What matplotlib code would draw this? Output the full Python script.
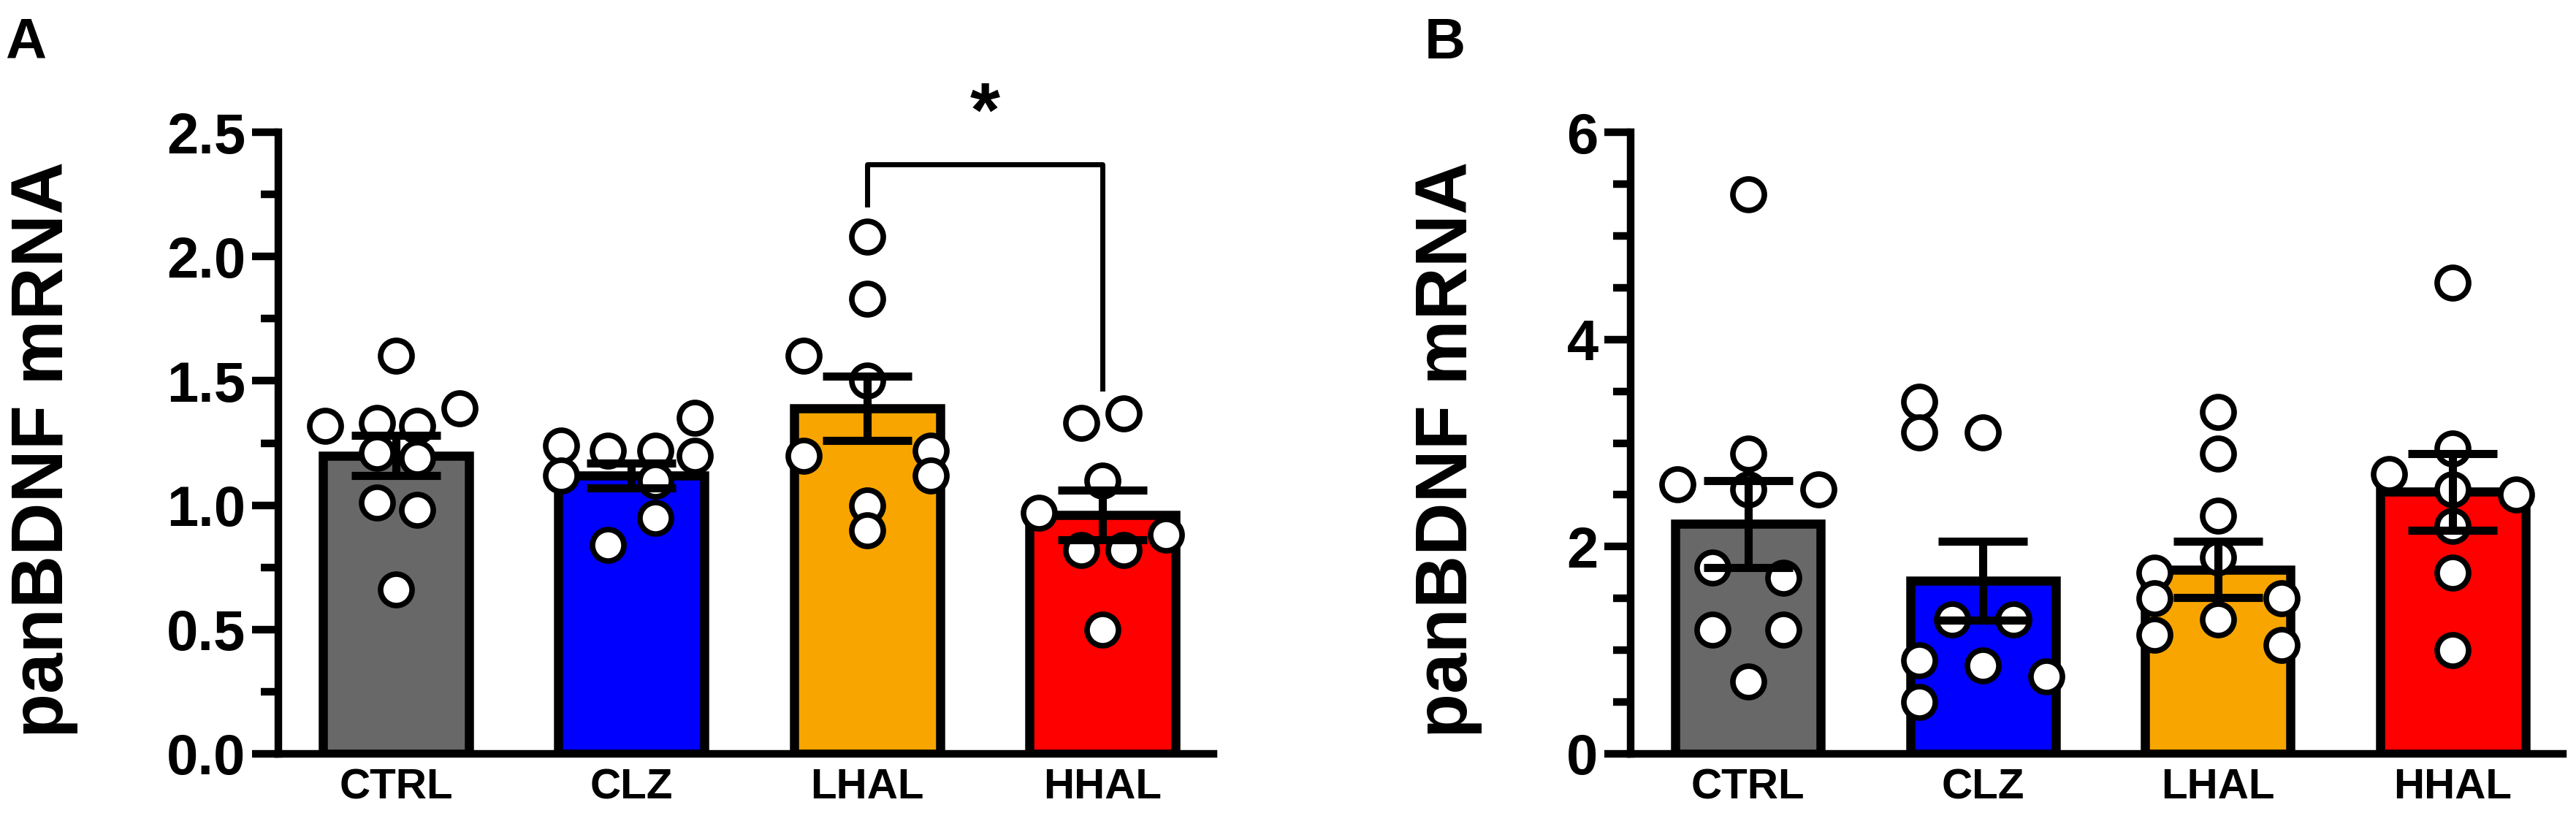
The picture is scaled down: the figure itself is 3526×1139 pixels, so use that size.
import matplotlib
matplotlib.use("Agg")
import matplotlib.pyplot as plt
from matplotlib.ticker import MultipleLocator

plt.rcParams["font.family"] = "Liberation Sans"
plt.rcParams["font.weight"] = "bold"

groups = ["CTRL", "CLZ", "LHAL", "HHAL"]
colors = ["#686868", "#0000FF", "#F8A500", "#FF0000"]

# panel A
a_means = [1.20, 1.12, 1.39, 0.96]
a_sems = [0.08, 0.05, 0.13, 0.10]
a_points = [
    [1.60, 1.39, 1.32, 1.33, 1.32, 1.21, 1.19, 1.01, 0.98, 0.66],
    [1.35, 1.24, 1.22, 1.22, 1.20, 1.12, 1.10, 0.95, 0.84],
    [2.08, 1.83, 1.60, 1.50, 1.22, 1.20, 1.12, 1.00, 0.90],
    [1.37, 1.33, 1.10, 0.97, 0.88, 0.82, 0.82, 0.50],
]
a_offsets = [
    [0, 0.27, -0.3, -0.08, 0.09, -0.08, 0.09, -0.08, 0.09, 0],
    [0.27, -0.3, -0.1, 0.1, 0.27, -0.3, 0.1, 0.1, -0.1],
    [0, 0, -0.27, 0, 0.27, -0.27, 0.27, 0, 0],
    [0.09, -0.09, 0, -0.27, 0.27, -0.09, 0.09, 0],
]

# panel B
b_means = [2.22, 1.67, 1.78, 2.53]
b_sems = [0.42, 0.38, 0.27, 0.37]
b_points = [
    [5.4, 2.9, 2.6, 2.55, 2.55, 1.8, 1.7, 1.2, 1.2, 0.7],
    [3.4, 3.1, 3.1, 1.3, 1.3, 0.9, 0.85, 0.75, 0.5],
    [3.3, 2.9, 2.3, 1.9, 1.75, 1.5, 1.5, 1.3, 1.15, 1.05],
    [4.55, 2.95, 2.7, 2.55, 2.5, 2.2, 1.75, 1.0],
]
b_offsets = [
    [0, 0, -0.3, 0, 0.3, -0.15, 0.15, -0.15, 0.15, 0],
    [-0.27, -0.27, 0, -0.13, 0.13, -0.27, 0, 0.27, -0.27],
    [0, 0, 0, 0, -0.27, -0.27, 0.27, 0, -0.27, 0.27],
    [0, 0, -0.27, 0, 0.27, 0, 0, 0],
]


def draw_panel(ax, means, sems, points, offsets, ymax, major, minor):
    x = list(range(len(groups)))
    ax.bar(x, means, width=0.62, color=colors, edgecolor="black", linewidth=9, zorder=1)
    for i, (vals, offs) in enumerate(zip(points, offsets)):
        ax.plot([i + o for o in offs], vals, "o", ms=31, mfc="white", mec="black",
                mew=5.5, zorder=2, clip_on=False)
    ax.errorbar(x, means, yerr=sems, fmt="none", ecolor="black", elinewidth=8,
                capsize=44, capthick=8, zorder=3)
    ax.set_xlim(-0.5, 3.47)
    ax.set_ylim(0, ymax)
    ax.yaxis.set_major_locator(MultipleLocator(major))
    ax.yaxis.set_minor_locator(MultipleLocator(minor))
    ax.set_xticks(x)
    ax.set_xticklabels(groups, fontsize=42, fontweight="bold")
    for sp in ["top", "right"]:
        ax.spines[sp].set_visible(False)
    for sp in ["left", "bottom"]:
        ax.spines[sp].set_linewidth(7.5)
    ax.tick_params(axis="y", which="major", length=26, width=7.5, labelsize=56, pad=6)
    ax.tick_params(axis="y", which="minor", length=17, width=7.5)
    ax.tick_params(axis="x", length=0, pad=14)


fig = plt.figure(figsize=(35.26, 11.39), dpi=100)
ax_a = fig.add_axes([0.108, 0.094, 0.363, 0.747])
ax_b = fig.add_axes([0.633, 0.094, 0.362, 0.747])

draw_panel(ax_a, a_means, a_sems, a_points, a_offsets, 2.5, 0.5, 0.25)
ax_a.set_yticklabels([f"{v:.1f}" for v in ax_a.get_yticks()])
draw_panel(ax_b, b_means, b_sems, b_points, b_offsets, 6, 2, 0.5)

# significance bracket
ax_a.plot([2, 2, 3, 3], [2.21, 2.37, 2.37, 1.47], color="black", lw=5, clip_on=False)
ax_a.text(2.5, 2.42, "*", ha="center", va="bottom", fontsize=76, fontweight="bold")

fig.text(0.017, 0.46, "panBDNF mRNA", rotation=90, ha="center", va="center",
         fontsize=72, fontweight="bold")
fig.text(0.562, 0.46, "panBDNF mRNA", rotation=90, ha="center", va="center",
         fontsize=72, fontweight="bold")
fig.text(0.002, 0.98, "A", ha="left", va="top", fontsize=56, fontweight="bold")
fig.text(0.553, 0.98, "B", ha="left", va="top", fontsize=56, fontweight="bold")

fig.savefig("out.png", dpi=100)
